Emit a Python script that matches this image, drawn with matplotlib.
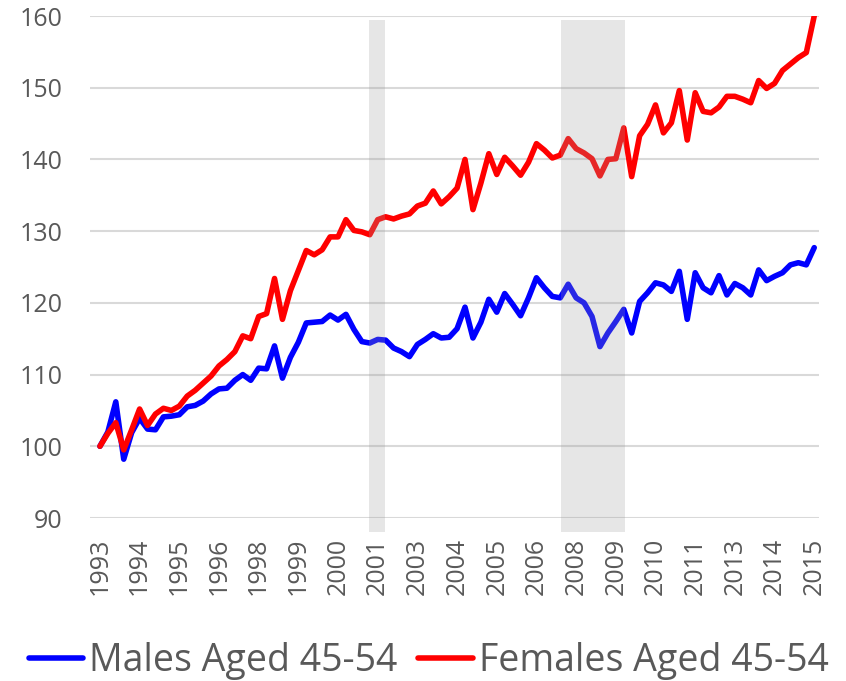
import numpy as np
import matplotlib
matplotlib.use("Agg")
import matplotlib.pyplot as plt

# quarterly index values, 1993Q1 = 100
males = [100.0, 102.0, 106.2, 98.2, 101.9, 103.9, 102.4, 102.3, 104.1, 104.2,
         104.4, 105.5, 105.7, 106.3, 107.3, 108.0, 108.1, 109.2, 110.0, 109.2,
         110.9, 110.8, 114.0, 109.5, 112.4, 114.5, 117.2, 117.3, 117.4, 118.3,
         117.6, 118.4, 116.3, 114.6, 114.4, 114.9, 114.8, 113.7, 113.2, 112.5,
         114.2, 114.9, 115.7, 115.1, 115.2, 116.4, 119.4, 115.1, 117.3, 120.5,
         118.7, 121.3, 119.8, 118.2, 120.7, 123.5, 122.1, 120.9, 120.7, 122.6,
         120.7, 120.0, 118.1, 113.9, 115.8, 117.4, 119.1, 115.8, 120.2, 121.4,
         122.8, 122.5, 121.6, 124.4, 117.7, 124.2, 122.1, 121.4, 123.8, 121.1,
         122.7, 122.1, 121.1, 124.6, 123.1, 123.7, 124.2, 125.3, 125.6, 125.3,
         127.7]
females = [100.0, 101.8, 103.3, 99.5, 102.3, 105.2, 102.9, 104.5, 105.3, 105.0,
           105.6, 107.0, 107.8, 108.8, 109.8, 111.2, 112.1, 113.2, 115.4, 115.0,
           118.1, 118.5, 123.4, 117.7, 121.7, 124.5, 127.3, 126.7, 127.4, 129.2,
           129.2, 131.6, 130.1, 129.9, 129.5, 131.6, 132.0, 131.7, 132.1, 132.4,
           133.5, 133.9, 135.6, 133.8, 134.8, 136.0, 140.0, 133.0, 136.7, 140.8,
           137.9, 140.3, 139.1, 137.8, 139.6, 142.2, 141.3, 140.2, 140.6, 142.9,
           141.5, 140.9, 140.1, 137.7, 140.0, 140.1, 144.4, 137.6, 143.3, 144.9,
           147.6, 143.7, 145.1, 149.6, 142.7, 149.3, 146.7, 146.5, 147.3, 148.8,
           148.8, 148.4, 147.9, 151.0, 149.9, 150.6, 152.4, 153.3, 154.2, 154.9,
           160.0]
tick_labels = ["1993", "1994", "1995", "1996", "1998", "1999", "2000", "2001",
               "2003", "2004", "2005", "2006", "2008", "2009", "2010", "2011",
               "2013", "2014", "2015"]
# recession shading, in quarter index units
recessions = [(33.9, 35.9), (58.05, 66.1)]

txt = "#595959"
plt.rcParams["font.family"] = ["Open Sans", "DejaVu Sans"]

fig = plt.figure(figsize=(8.46, 6.81), dpi=100)
ax = fig.add_axes([90/846, 1 - 518/681, (819 - 90)/846, (518 - 16)/681])

x = np.arange(len(males))
ax.plot(x, males, color="#0000ff", lw=4.0, solid_joinstyle="round",
        solid_capstyle="round", label="Males Aged 45-54", zorder=3)
ax.plot(x, females, color="#ff0000", lw=4.0, solid_joinstyle="round",
        solid_capstyle="round", label="Females Aged 45-54", zorder=3)

for a, b in recessions:
    ax.axvspan(a, b, ymin=-0.028, ymax=0.992, color="#9d9d9d", alpha=0.25,
               lw=0, zorder=4, clip_on=False)

ax.set_xlim(-1.25, 90.6)
ax.set_ylim(90, 160)
ax.set_yticks(range(90, 161, 10))
ax.set_xticks(np.arange(0, len(males), 5))
ax.set_xticklabels(tick_labels, rotation=90)
ax.grid(axis="y", color="#d9d9d9", lw=1.5, zorder=0)
ax.set_axisbelow(True)
for s in ax.spines.values():
    s.set_visible(False)
ax.tick_params(axis="y", length=0, pad=20, labelsize=18, labelcolor=txt)
ax.tick_params(axis="x", length=0, pad=14, labelsize=18, labelcolor=txt)

fig.legend(loc="center", bbox_to_anchor=(0.507, 1 - 661/681), ncol=2,
           frameon=False, fontsize=27, labelcolor=txt, handlelength=1.45,
           handletextpad=0.16, columnspacing=0.55, borderpad=0)

fig.savefig("out.png", dpi=100)
